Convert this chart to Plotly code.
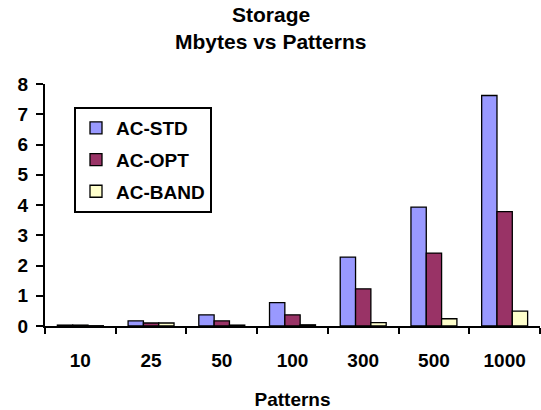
import plotly.graph_objects as go

# Storage needed (Mbytes) for each pattern-set size
patterns = ["10", "25", "50", "100", "300", "500", "1000"]
ac_std = [0.03, 0.17, 0.37, 0.77, 2.28, 3.93, 7.62]
ac_opt = [0.03, 0.10, 0.17, 0.37, 1.23, 2.41, 3.78]
ac_band = [0.01, 0.10, 0.03, 0.04, 0.11, 0.24, 0.49]

title_lines = ["Storage", "Mbytes vs Patterns"]

series = [
    ("AC-STD", ac_std, "#9999FF"),
    ("AC-OPT", ac_opt, "#993366"),
    ("AC-BAND", ac_band, "#FFFFCC"),
]

FONT = "Liberation Sans, Arial, sans-serif"
W, H = 541, 410
ML, MR, MT, MB = 45, 1, 84, 84
PLOT_H = H - MT - MB


def bold(size):
    return dict(family=FONT, size=size, color="black", weight="bold")


def paper_y(px):
    # convert a pixel row (from the top of the figure) to paper coordinates
    return (H - MB - px) / PLOT_H


def paper_x(px):
    return (px - ML) / (W - ML - MR)


fig = go.Figure()
for name, vals, color in series:
    fig.add_trace(go.Bar(
        x=patterns, y=vals, name=name, legendgroup=name,
        marker=dict(color=color, line=dict(color="black", width=1.3)),
    ))

# two-line chart heading, centred on the figure
for text, row in zip(title_lines, [15, 42]):
    fig.add_annotation(
        text=text, xref="paper", yref="paper",
        x=paper_x(W / 2), y=paper_y(row),
        xanchor="center", yanchor="middle", showarrow=False,
        font=bold(21),
    )

fig.update_layout(
    width=W, height=H,
    margin=dict(l=ML, r=MR, t=MT, b=MB),
    paper_bgcolor="white", plot_bgcolor="white",
    barmode="group", bargap=0.35, bargroupgap=0,
    font=bold(19),
    legend=dict(
        x=paper_x(74), y=paper_y(107), xanchor="left", yanchor="top",
        bgcolor="white", bordercolor="black", borderwidth=2,
        font=bold(19), tracegroupgap=4, itemwidth=30,
    ),
    showlegend=True,
)

fig.update_xaxes(
    type="category", showline=True, linecolor="black", linewidth=2,
    ticks="outside", ticklen=6, tickwidth=2, tickcolor="black",
    tickson="boundaries", showgrid=False, ticklabelstandoff=16,
    tickfont=bold(19),
    title=dict(text="Patterns", standoff=26, font=bold(19)),
)
fig.update_yaxes(
    range=[0, 8], dtick=1, showline=True, linecolor="black", linewidth=2,
    ticks="outside", ticklen=7, tickwidth=2, tickcolor="black",
    showgrid=False, zeroline=False, ticklabelstandoff=4,
    tickfont=bold(19),
)

fig.write_html("out.html")
